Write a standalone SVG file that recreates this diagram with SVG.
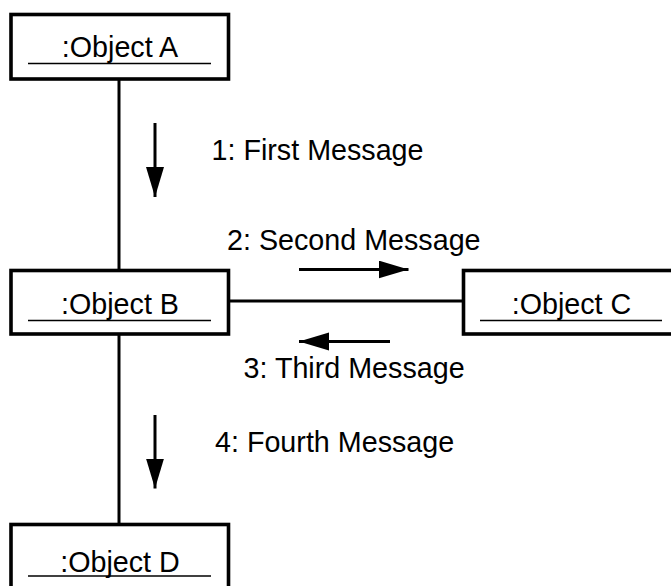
<svg xmlns="http://www.w3.org/2000/svg" width="671" height="586" viewBox="0 0 671 586">
<style>
.box{fill:#fff;stroke:#000;stroke-width:3.6}
.ul{stroke:#000;stroke-width:1.6}
.t{font-family:"Liberation Sans",Arial,sans-serif;font-size:28.7px;fill:#000}
.c{stroke:#000;stroke-width:3;fill:none}
.m{stroke:#000;stroke-width:3;fill:none}
</style>
<defs>
<marker id="ah" markerUnits="userSpaceOnUse" markerWidth="32" markerHeight="20" refX="30" refY="9" orient="auto">
<path d="M0,0 L30,9 L0,18 Z" fill="#000"/>
</marker>
</defs>
<rect width="671" height="586" fill="#fff"/>
<g id="connectors">
<line class="c" x1="119" y1="79" x2="119" y2="270.5"/>
<line class="c" x1="119" y1="334" x2="119" y2="524.5"/>
<line class="c" x1="228.5" y1="301" x2="463.5" y2="301"/>
</g>
<g id="messages">
<line class="m" x1="155" y1="123" x2="155" y2="197" marker-end="url(#ah)"/>
<text class="t" x="211.5" y="160">1: First Message</text>
<line class="m" x1="299" y1="269.5" x2="408.5" y2="269.5" marker-end="url(#ah)"/>
<text class="t" x="227" y="250">2: Second Message</text>
<line class="m" x1="390" y1="341.5" x2="299" y2="341.5" marker-end="url(#ah)"/>
<text class="t" x="243.5" y="378">3: Third Message</text>
<line class="m" x1="155" y1="415" x2="155" y2="488.5" marker-end="url(#ah)"/>
<text class="t" x="215" y="451.5">4: Fourth Message</text>
</g>
<g id="objA">
<rect class="box" x="11" y="14.5" width="217.5" height="64.5"/>
<text class="t" x="120" y="57" text-anchor="middle">:Object A</text>
<line class="ul" x1="28" y1="63.5" x2="211" y2="63.5"/>
</g>
<g id="objB">
<rect class="box" x="11" y="270.5" width="217.5" height="63.5"/>
<text class="t" x="120" y="314" text-anchor="middle">:Object B</text>
<line class="ul" x1="28" y1="320.5" x2="211" y2="320.5"/>
</g>
<g id="objC">
<rect class="box" x="463.5" y="270.5" width="217.5" height="63.5"/>
<text class="t" x="571.5" y="314" text-anchor="middle">:Object C</text>
<line class="ul" x1="480" y1="320.5" x2="662" y2="320.5"/>
</g>
<g id="objD">
<rect class="box" x="11" y="524.5" width="217.5" height="70"/>
<text class="t" x="120" y="571.5" text-anchor="middle">:Object D</text>
<line class="ul" x1="28" y1="576" x2="211" y2="576"/>
</g>
</svg>
